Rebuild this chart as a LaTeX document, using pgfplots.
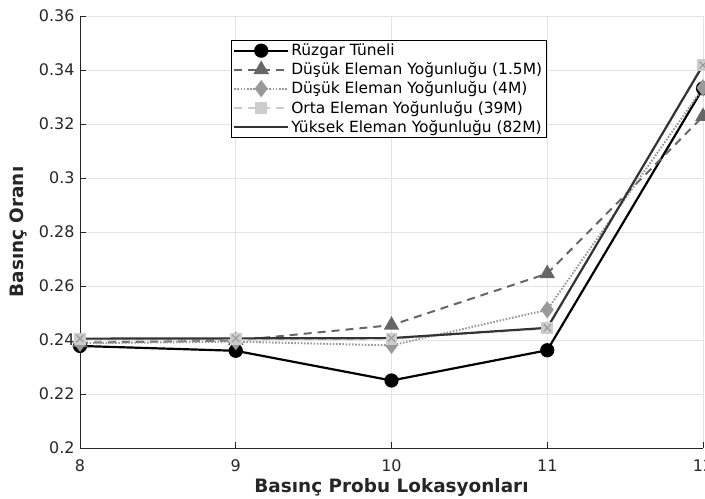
\documentclass[border=0pt]{standalone}
\usepackage{pgfplots}
\pgfplotsset{compat=1.18}
\usepackage{fontspec}
\setmainfont{DejaVu Sans}
\definecolor{axc}{HTML}{262626}
\definecolor{gridc}{HTML}{E3E3E3}
\definecolor{cB}{HTML}{666666}
\definecolor{cC}{HTML}{999999}
\definecolor{cD}{HTML}{CCCCCC}
\definecolor{cE}{HTML}{333333}
\begin{document}
\begin{tikzpicture}
\begin{axis}[name=ax, scale only axis, width=623bp, height=432bp,
  xmin=8, xmax=12, ymin=0.2, ymax=0.36,
  xtick={8,9,10,11,12},
  ytick={0.2,0.22,0.24,0.26,0.28,0.3,0.32,0.34,0.36},
  yticklabels={0.2,0.22,0.24,0.26,0.28,0.3,0.32,0.34,0.36},
  axis x line*=bottom, axis y line*=left,
  axis line style={axc, line width=0.8pt},
  tick style={axc, line width=0.7pt}, major tick length=6bp, tick align=inside,
  grid=major, grid style={gridc, line width=0.6pt},
  font=\fontsize{16}{19}\selectfont,
  ticklabel style={font=\fontsize{16}{19}\selectfont, text=axc},
  xticklabel style={yshift=-8bp},
  yticklabel style={xshift=-2bp},
  /pgf/number format/assume math mode=true,
  xlabel={\fontsize{18.5}{21}\selectfont\bfseries Basınç Probu Lokasyonları},
  ylabel={\fontsize{18.5}{21}\selectfont\bfseries Basınç Oranı},
  xlabel style={yshift=0bp, text=axc},
  ylabel style={yshift=5bp, text=axc},
  legend cell align=left,
  legend style={at={(0.242,0.944)}, anchor=north west, draw=black, line width=0.7pt,
    font=\fontsize{15.5}{18}\selectfont, row sep=1.5bp, inner xsep=2bp, inner ysep=1.5bp},
  legend image code/.code={\draw[mark repeat=2,mark phase=2,#1] plot coordinates {(0bp,0bp) (27bp,0bp) (54bp,0bp)};},
]
\addplot[black, line width=2.2pt, mark=*, mark size=6bp, mark options={solid, fill=black}]
  coordinates {(8,0.2378) (9,0.2360) (10,0.2250) (11,0.2362) (12,0.3332)};
\addlegendentry{Rüzgar Tüneli}
\addplot[cB, line width=2pt, dash pattern=on 8bp off 6bp, mark=triangle*, mark size=7bp, mark options={solid, fill=cB}]
  coordinates {(8,0.2390) (9,0.2398) (10,0.2455) (11,0.2646) (12,0.3228)};
\addlegendentry{Düşük Eleman Yoğunluğu (1.5M)}
\addplot[cC, line width=2pt, dash pattern=on 1.6bp off 1.6bp, mark=diamond*, mark size=7bp, mark options={solid, fill=cC}]
  coordinates {(8,0.2388) (9,0.2394) (10,0.2380) (11,0.2512) (12,0.3334)};
\addlegendentry{Düşük Eleman Yoğunluğu (4M)}
\addplot[cD, line width=2pt, dash pattern=on 8bp off 6bp, mark=square*, mark size=5bp, mark options={solid, fill=cD}]
  coordinates {(8,0.2402) (9,0.2403) (10,0.2405) (11,0.2443) (12,0.3420)};
\addlegendentry{Orta Eleman Yoğunluğu (39M)}
\addplot[cE, line width=2.2pt]
  coordinates {(8,0.2405) (9,0.2406) (10,0.2407) (11,0.2445) (12,0.3418)};
\addlegendentry{Yüksek Eleman Yoğunluğu (82M)}
\addplot[forget plot, only marks, mark=x, mark size=5bp, mark options={cC, line width=1.2pt}]
  coordinates {(8,0.2405) (9,0.2406) (10,0.2407) (11,0.2445) (12,0.3418)};
\end{axis}
\pgfresetboundingbox
\path[use as bounding box] ([xshift=-80bp,yshift=-51bp]ax.south west) rectangle ([xshift=2bp,yshift=16bp]ax.north east);
\end{tikzpicture}
\end{document}
